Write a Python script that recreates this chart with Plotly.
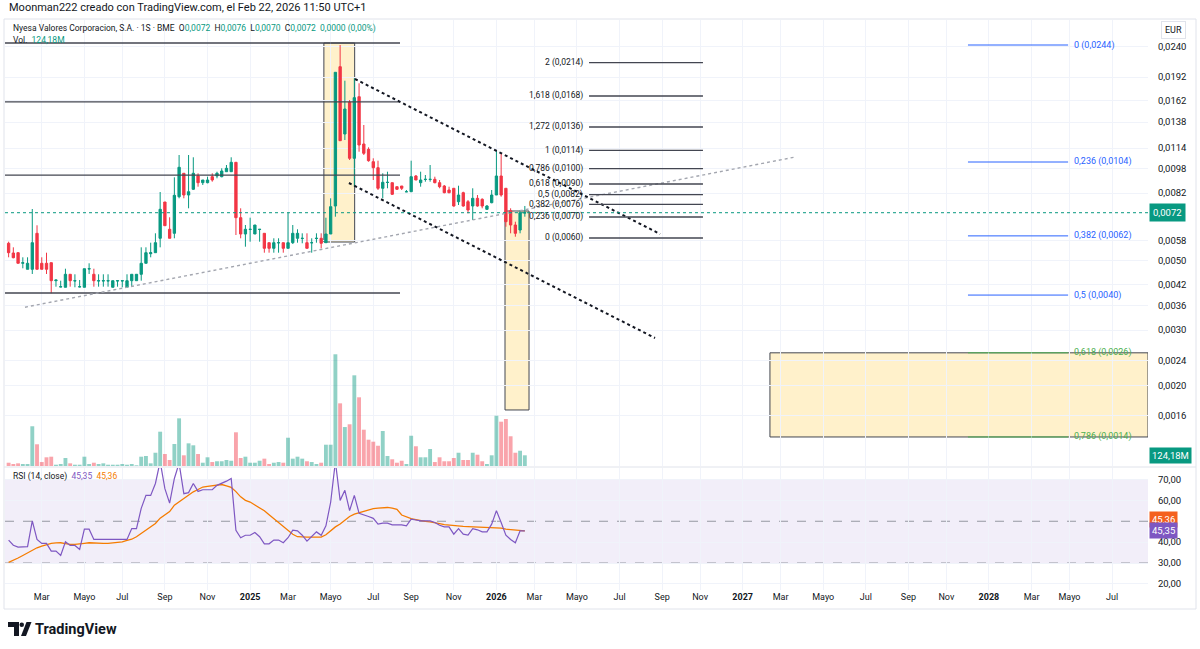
import math
import pandas as pd
import plotly.graph_objects as go

W, H = 1200, 649

# ---------------- data ----------------
dates = pd.date_range("2024-01-15", periods=110, freq="7D")

open_ = [0.005673, 0.005283, 0.005295, 0.004899, 0.004688, 0.004688, 0.006104, 0.004899, 0.004899, 0.004921,
         0.004312, 0.004117, 0.004108, 0.004519, 0.004302, 0.004117, 0.004108, 0.004698, 0.004519, 0.004302,
         0.004302, 0.004302, 0.004108, 0.004302, 0.004302, 0.004108, 0.004312, 0.004312, 0.004519, 0.004899,
         0.005256, 0.005295, 0.005885, 0.007680, 0.006287, 0.006104, 0.007985, 0.009481, 0.008085, 0.008431,
         0.009295, 0.008849, 0.008849, 0.009247, 0.009295, 0.009247, 0.009593, 0.009593, 0.010277, 0.006845,
         0.006073, 0.006277, 0.006073, 0.006277, 0.006104, 0.005698, 0.005468, 0.005694, 0.005698, 0.005468,
         0.005698, 0.005885, 0.005875, 0.005698, 0.005694, 0.005875, 0.005885, 0.005698, 0.006073, 0.007458,
         0.020725, 0.012648, 0.015961, 0.010584, 0.016630, 0.011754, 0.011306, 0.010322, 0.009878, 0.008493,
         0.008862, 0.008849, 0.008593, 0.008637, 0.008276, 0.008283, 0.009295, 0.008849, 0.009059, 0.009059,
         0.009072, 0.008849, 0.008637, 0.008387, 0.008493, 0.007697, 0.008223, 0.007697, 0.007458, 0.007892,
         0.007834, 0.007280, 0.007641, 0.008085, 0.009295, 0.008493, 0.007206, 0.006488, 0.006254, 0.007080]

high = [0.005740, 0.005508, 0.005311, 0.005119, 0.005119, 0.007296, 0.006474, 0.005119, 0.005295, 0.004921,
        0.004334, 0.004312, 0.004708, 0.004519, 0.004519, 0.004334, 0.004708, 0.004899, 0.004708, 0.004519,
        0.004519, 0.004519, 0.004312, 0.004312, 0.004312, 0.004519, 0.004519, 0.004519, 0.005508, 0.005508,
        0.005698, 0.006104, 0.008265, 0.007680, 0.006865, 0.009206, 0.010843, 0.009481, 0.010843, 0.010662,
        0.009481, 0.009026, 0.009247, 0.009481, 0.009593, 0.009835, 0.010076, 0.010662, 0.010277, 0.007333,
        0.006488, 0.006845, 0.006488, 0.006287, 0.006104, 0.005698, 0.005885, 0.005885, 0.005698, 0.007101,
        0.006488, 0.006287, 0.006104, 0.006104, 0.005885, 0.006104, 0.006104, 0.006845, 0.007892, 0.019891,
        0.024300, 0.018702, 0.016232, 0.019034, 0.018348, 0.013512, 0.011473, 0.010584, 0.010399, 0.009481,
        0.009593, 0.008849, 0.008593, 0.008637, 0.008387, 0.010399, 0.009363, 0.009593, 0.009363, 0.010076,
        0.009247, 0.009026, 0.008701, 0.008593, 0.008493, 0.008656, 0.008283, 0.007794, 0.008493, 0.008085,
        0.007892, 0.007513, 0.008387, 0.011248, 0.010979, 0.008493, 0.007333, 0.006647, 0.007243, 0.007460]

low = [0.005119, 0.005081, 0.004899, 0.004722, 0.004688, 0.004529, 0.004688, 0.004688, 0.004529, 0.003931,
       0.004126, 0.004108, 0.004108, 0.004126, 0.004108, 0.004108, 0.004108, 0.004529, 0.004126, 0.004126,
       0.004126, 0.004126, 0.004108, 0.004126, 0.004108, 0.004108, 0.004126, 0.004312, 0.004312, 0.004899,
       0.005119, 0.005295, 0.005508, 0.006455, 0.005885, 0.005885, 0.007892, 0.007892, 0.007333, 0.008387,
       0.008593, 0.008701, 0.008810, 0.008914, 0.009139, 0.009206, 0.009593, 0.009593, 0.006029, 0.005885,
       0.005533, 0.005740, 0.006073, 0.005740, 0.005295, 0.005295, 0.005295, 0.005295, 0.005295, 0.005468,
       0.005644, 0.005698, 0.005673, 0.005468, 0.005295, 0.005698, 0.005468, 0.005698, 0.006073, 0.006895,
       0.012042, 0.012104, 0.010452, 0.008593, 0.011109, 0.010843, 0.010322, 0.009026, 0.008387, 0.007892,
       0.008493, 0.008085, 0.008387, 0.008387, 0.008265, 0.008283, 0.009026, 0.008593, 0.008914, 0.008914,
       0.008810, 0.008493, 0.008186, 0.008186, 0.007420, 0.007513, 0.007420, 0.007070, 0.006730, 0.007420,
       0.007333, 0.007243, 0.007608, 0.008085, 0.007985, 0.006407, 0.006104, 0.005954, 0.006104, 0.006895]

close = [0.005295, 0.005104, 0.004899, 0.004921, 0.004899, 0.005698, 0.004688, 0.004688, 0.004688, 0.004312,
         0.004334, 0.004126, 0.004519, 0.004312, 0.004312, 0.004126, 0.004708, 0.004708, 0.004312, 0.004312,
         0.004312, 0.004312, 0.004312, 0.004312, 0.004312, 0.004312, 0.004519, 0.004519, 0.004899, 0.005295,
         0.005295, 0.005698, 0.007280, 0.006455, 0.005885, 0.008067, 0.009908, 0.008085, 0.008283, 0.009481,
         0.008849, 0.009026, 0.009026, 0.009026, 0.009481, 0.009642, 0.009835, 0.010277, 0.006845, 0.006073,
         0.006287, 0.006287, 0.006488, 0.006287, 0.005468, 0.005468, 0.005698, 0.005698, 0.005468, 0.005698,
         0.006104, 0.006104, 0.005885, 0.005468, 0.005698, 0.005885, 0.005673, 0.006073, 0.007420, 0.019891,
         0.012042, 0.015195, 0.010584, 0.016509, 0.011668, 0.010979, 0.010399, 0.009878, 0.008493, 0.008875,
         0.008875, 0.008127, 0.008431, 0.008493, 0.008283, 0.009247, 0.009026, 0.009026, 0.009072, 0.009072,
         0.008849, 0.008593, 0.008223, 0.008223, 0.007458, 0.008085, 0.007458, 0.007243, 0.007892, 0.007458,
         0.007458, 0.007458, 0.008085, 0.009295, 0.008085, 0.006647, 0.006488, 0.006104, 0.007100, 0.007100]

volume_m = [38, 23, 31, 23, 23, 461, 252, 46, 101, 108,
            15, 23, 93, 31, 15, 15, 108, 23, 38, 23,
            31, 15, 15, 15, 23, 15, 23, 8, 108, 116,
            31, 154, 398, 139, 70, 255, 553, 124, 263, 240,
            139, 38, 101, 46, 55, 55, 70, 61, 391, 93,
            108, 38, 38, 61, 85, 23, 38, 46, 38, 328,
            85, 108, 85, 55, 46, 23, 38, 247, 247, 1296,
            727, 452, 484, 1052, 797, 421, 305, 282, 235, 406,
            116, 78, 38, 61, 23, 351, 229, 101, 101, 197,
            46, 101, 55, 55, 93, 154, 70, 70, 154, 131,
            55, 23, 124, 583, 514, 545, 345, 154, 177, 124.18]

rsi = [41.0, 38.5, 37.6, 37.6, 37.8, 50.2, 41.3, 39.4, 39.4, 35.7,
       35.7, 33.6, 40.2, 38.4, 38.4, 36.5, 46.2, 46.2, 41.3, 41.3,
       41.3, 41.3, 41.3, 41.3, 41.3, 41.3, 46.5, 46.5, 56.2, 62.4,
       62.4, 68.1, 78.6, 65.6, 58.7, 70.5, 77.8, 63.2, 63.7, 68.1,
       64.3, 65.1, 65.1, 65.1, 67.2, 68.1, 69.2, 70.5, 45.7, 42.1,
       43.3, 43.3, 44.6, 42.6, 39.2, 39.2, 41.0, 41.0, 39.7, 42.1,
       45.7, 45.4, 43.3, 40.5, 42.9, 44.9, 43.3, 47.8, 59.1, 78.6,
       60.0, 64.8, 55.1, 62.4, 53.8, 53.2, 52.3, 51.4, 48.6, 49.1,
       49.1, 48.3, 48.3, 48.3, 47.8, 51.0, 50.6, 50.2, 50.2, 50.2,
       49.4, 48.1, 47.3, 47.3, 43.8, 46.5, 43.8, 43.4, 46.5, 45.9,
       44.9, 44.9, 48.6, 55.1, 49.4, 43.3, 41.3, 39.7, 45.4, 45.35]

rsi_ma = [30.3, 31.2, 32.4, 33.6, 34.8, 36.4, 37.3, 38.1, 38.8, 39.4,
          39.6, 39.7, 39.3, 38.9, 38.9, 39.0, 39.4, 39.7, 39.5, 39.4,
          39.4, 39.4, 39.6, 39.8, 40.1, 40.8, 41.4, 42.6, 44.1, 45.8,
          47.0, 48.9, 51.5, 53.1, 54.6, 57.7, 59.3, 60.7, 62.3, 64.1,
          65.2, 66.4, 66.7, 67.1, 67.4, 67.6, 67.0, 66.2, 64.2, 61.7,
          60.0, 59.2, 57.8, 56.5, 55.0, 53.1, 51.2, 49.6, 47.5, 45.5,
          43.8, 42.6, 42.4, 42.4, 42.4, 42.4, 42.4, 43.5, 45.5, 47.3,
          48.7, 50.3, 52.3, 53.4, 54.1, 54.7, 55.4, 56.0, 56.3, 56.5,
          56.6, 56.3, 55.7, 53.0, 52.0, 51.3, 50.8, 50.2, 49.9, 49.7,
          49.4, 48.9, 48.4, 48.1, 47.9, 47.7, 47.5, 47.4, 47.3, 47.2,
          47.0, 46.8, 46.7, 46.7, 46.7, 46.2, 45.9, 45.7, 45.5, 45.36]

# axis ticks
month_ticks = ["2024-03-04", "2024-05-06", "2024-07-01", "2024-09-02", "2024-11-04",
               "2025-01-06", "2025-03-03", "2025-05-05", "2025-07-07", "2025-09-01", "2025-11-03",
               "2026-01-05", "2026-03-02", "2026-05-04", "2026-07-06", "2026-09-07", "2026-11-02",
               "2027-01-04", "2027-03-01", "2027-05-03", "2027-07-05", "2027-09-06", "2027-11-01",
               "2028-01-03", "2028-03-06", "2028-05-01", "2028-07-03"]
month_labels = ["Mar", "Mayo", "Jul", "Sep", "Nov",
                "<b>2025</b>", "Mar", "Mayo", "Jul", "Sep", "Nov",
                "<b>2026</b>", "Mar", "Mayo", "Jul", "Sep", "Nov",
                "<b>2027</b>", "Mar", "Mayo", "Jul", "Sep", "Nov",
                "<b>2028</b>", "Mar", "Mayo", "Jul"]
price_ticks = [0.0016, 0.0020, 0.0024, 0.0030, 0.0036, 0.0042, 0.0050, 0.0058,
               0.0082, 0.0098, 0.0114, 0.0138, 0.0162, 0.0192, 0.0240]
price_tick_text = ["0,0016", "0,0020", "0,0024", "0,0030", "0,0036", "0,0042", "0,0050", "0,0058",
                   "0,0082", "0,0098", "0,0114", "0,0138", "0,0162", "0,0192", "0,0240"]
rsi_ticks = [20, 30, 40, 60, 70]
rsi_tick_text = ["20,00", "30,00", "40,00", "60,00", "70,00"]

# drawings (anchor points of the chart's drawing tools)
x_range = ["2024-01-09 16:00", "2028-08-25 02:00"]
last_price = 0.00710
hlines_prices = [0.02466, 0.0160, 0.00936, 0.00394]
hlines_x = ["2024-01-09 16:00", "2025-08-15 12:00"]
trend_up = (["2024-02-08 05:00", "2027-03-22 07:00"], [0.00355, 0.01068])
channel_top = (["2025-06-10", "2026-09-04"], [0.018937, 0.006073])
channel_bot = (["2025-06-01", "2026-08-27 10:00"], [0.00883, 0.002832])
boxes = [
    ("2025-04-25", "2025-06-09 12:00", 0.005727, 0.02466),
    ("2026-01-17 17:00", "2026-02-22 05:00", 0.00167, 0.00719),
    ("2027-02-13 07:00", "2028-08-25 02:00", 0.00137, 0.00254),
]
fib1_prices = [0.005898, 0.00688, 0.007551, 0.008103, 0.008765, 0.009806, 0.011223, 0.013315, 0.016716, 0.021342]
fib1_labels = ["0 (0,0060)", "0,236 (0,0070)", "0,382 (0,0076)", "0,5 (0,0082)", "0,618 (0,0090)",
               "0,786 (0,0100)", "1 (0,0114)", "1,272 (0,0136)", "1,618 (0,0168)", "2 (0,0214)"]
fib1_x = ["2026-05-21 22:00", "2026-11-06 07:00"]
fib2_prices = [0.0243, 0.0103, 0.00599, 0.00388, 0.00254, 0.00137]
fib2_labels = ["0 (0,0244)", "0,236 (0,0104)", "0,382 (0,0062)", "0,5 (0,0040)", "0,618 (0,0026)", "0,786 (0,0014)"]
fib2_colors = ["#2962FF", "#2962FF", "#2962FF", "#2962FF", "#4CAF50", "#4CAF50"]
fib2_x = ["2027-12-03", "2028-04-29"]

# ---------------- figure ----------------
TEAL = "#089981"
RED = "#F23645"
TXT = "#131722"
GRID = "#f0f3fa"
FONT = "Roboto, sans-serif"


def px(x):
    return x / W


def py(y):
    return 1 - y / H


main_dom = [py(466), py(20)]
rsi_dom = [py(590), py(468)]

fig = go.Figure()

vol_colors = ["rgba(8,153,129,0.45)" if c >= o else "rgba(242,54,69,0.45)" for o, c in zip(open_, close)]
fig.add_trace(go.Bar(x=dates, y=volume_m, marker=dict(color=vol_colors, line=dict(width=0)),
                     xaxis="x", yaxis="y", showlegend=False, hoverinfo="skip"))

fig.add_trace(go.Candlestick(
    x=dates, open=open_, high=high, low=low, close=close, xaxis="x", yaxis="y3",
    increasing=dict(line=dict(color=TEAL, width=1), fillcolor=TEAL),
    decreasing=dict(line=dict(color=RED, width=1), fillcolor=RED),
    whiskerwidth=0, showlegend=False))

for p in hlines_prices:
    fig.add_trace(go.Scatter(x=hlines_x, y=[p, p], mode="lines", xaxis="x", yaxis="y3",
                             line=dict(color="#434651", width=1.3), showlegend=False, hoverinfo="skip"))
fig.add_trace(go.Scatter(x=trend_up[0], y=trend_up[1], mode="lines", xaxis="x", yaxis="y3",
                         line=dict(color="#a3a6af", width=1.4, dash="dot"), showlegend=False, hoverinfo="skip"))
for tl in (channel_top, channel_bot):
    fig.add_trace(go.Scatter(x=tl[0], y=tl[1], mode="lines", xaxis="x", yaxis="y3",
                             line=dict(color=TXT, width=2, dash="dot"), showlegend=False, hoverinfo="skip"))
for p in fib1_prices:
    fig.add_trace(go.Scatter(x=fib1_x, y=[p, p], mode="lines", xaxis="x", yaxis="y3",
                             line=dict(color="#434651", width=1.3), showlegend=False, hoverinfo="skip"))
for p, c in zip(fib2_prices, fib2_colors):
    fig.add_trace(go.Scatter(x=fib2_x, y=[p, p], mode="lines", xaxis="x", yaxis="y3",
                             line=dict(color=c, width=1), showlegend=False, hoverinfo="skip"))
fig.add_trace(go.Scatter(x=x_range, y=[last_price, last_price], mode="lines", xaxis="x", yaxis="y3",
                         line=dict(color=TEAL, width=1, dash="dot"), showlegend=False, hoverinfo="skip"))

fig.add_trace(go.Scatter(x=dates, y=rsi_ma, mode="lines", xaxis="x2", yaxis="y2",
                         line=dict(color="#F57C00", width=1.3), showlegend=False, hoverinfo="skip"))
fig.add_trace(go.Scatter(x=dates, y=rsi, mode="lines", xaxis="x2", yaxis="y2",
                         line=dict(color="#7E57C2", width=1.2), showlegend=False, hoverinfo="skip"))

shapes = []
for x0, x1, y0, y1 in boxes:
    shapes.append(dict(type="rect", xref="x", yref="y3", x0=x0, x1=x1, y0=y0, y1=y1,
                       fillcolor="rgba(255,229,160,0.55)", line=dict(color="#434651", width=1), layer="below"))
shapes.append(dict(type="rect", xref="x2 domain", yref="y2", x0=0, x1=1, y0=30, y1=70,
                   fillcolor="rgba(126,87,194,0.10)", line=dict(width=0), layer="below"))
for lv in (30, 50, 70):
    shapes.append(dict(type="line", xref="x2 domain", yref="y2", x0=0, x1=1, y0=lv, y1=lv,
                       line=dict(color="#9598a1", width=1, dash="dash"), layer="below"))
shapes.append(dict(type="line", xref="paper", yref="paper", x0=px(4), x1=px(1196), y0=py(467), y1=py(467),
                   line=dict(color="#e0e3eb", width=1)))
shapes.append(dict(type="rect", xref="paper", yref="paper", x0=px(4), x1=px(1196), y0=py(609), y1=py(19),
                   line=dict(color="#e0e3eb", width=1)))
shapes.append(dict(type="path", xref="paper", yref="paper",
                   path=f"M {px(8)},{py(622)} L {px(19)},{py(622)} L {px(19)},{py(636)} L {px(14)},{py(636)} "
                        f"L {px(14)},{py(627)} L {px(8)},{py(627)} Z",
                   fillcolor=TXT, line=dict(width=0)))
shapes.append(dict(type="circle", xref="paper", yref="paper", x0=px(19.5), x1=px(24), y0=py(627), y1=py(622.5),
                   fillcolor=TXT, line=dict(width=0)))
shapes.append(dict(type="path", xref="paper", yref="paper",
                   path=f"M {px(21)},{py(636)} L {px(26.5)},{py(622)} L {px(31.5)},{py(622)} L {px(26)},{py(636)} Z",
                   fillcolor=TXT, line=dict(width=0)))

ann = []
ann.append(dict(xref="paper", yref="paper", x=px(7), y=py(8), xanchor="left", yanchor="middle", showarrow=False,
                text="Moonman222 creado con TradingView.com, el Feb 22, 2026 11:50 UTC+1",
                font=dict(size=11, color=TXT, family=FONT)))
tv = lambda s: f"<span style='color:{TEAL}'>{s}</span>"
ann.append(dict(xref="paper", yref="paper", x=px(11), y=py(28), xanchor="left", yanchor="middle", showarrow=False,
                text="Nyesa Valores Corporacion, S.A. · 1S · BME\u00a0\u00a0O" + tv("0,0072") + "\u00a0\u00a0H" + tv("0,0076")
                     + "\u00a0\u00a0L" + tv("0,0070") + "\u00a0\u00a0C" + tv("0,0072") + "\u00a0\u00a0" + tv("0,0000 (0,00%)"),
                font=dict(size=8.5, color=TXT, family=FONT)))
ann.append(dict(xref="paper", yref="paper", x=px(11), y=py(40), xanchor="left", yanchor="middle", showarrow=False,
                text="Vol.\u00a0\u00a0" + tv("124,18M"), font=dict(size=8.5, color=TXT, family=FONT)))
ann.append(dict(xref="paper", yref="paper", x=px(11), y=py(476), xanchor="left", yanchor="middle", showarrow=False,
                text="RSI (14, close)\u00a0\u00a0<span style='color:#7E57C2'>45,35</span>\u00a0\u00a0"
                     "<span style='color:#F57C00'>45,36</span>",
                font=dict(size=8.5, color=TXT, family=FONT)))
ann.append(dict(xref="paper", yref="paper", x=px(1173), y=py(30), xanchor="center", yanchor="middle", showarrow=False,
                text="EUR", font=dict(size=9, color=TXT, family=FONT), bordercolor="#e0e3eb", borderwidth=1,
                borderpad=3, bgcolor="white"))
ann.append(dict(xref="paper", yref="y3", x=px(1149), y=math.log10(last_price), xanchor="left", yanchor="middle",
                showarrow=False, text="0,0072", font=dict(size=9.5, color="white", family=FONT),
                bgcolor=TEAL, borderpad=3))
ann.append(dict(xref="paper", yref="y", x=px(1149), y=volume_m[-1], xanchor="left", yanchor="middle",
                showarrow=False, text="124,18M", font=dict(size=9.5, color="white", family=FONT),
                bgcolor=TEAL, borderpad=2))
ann.append(dict(xref="paper", yref="paper", x=px(1149), y=py(519), xanchor="left", yanchor="middle",
                showarrow=False, text="45,36", font=dict(size=9.5, color="white", family=FONT),
                bgcolor="#F4601E", borderpad=2))
ann.append(dict(xref="paper", yref="y2", x=px(1149), y=rsi[-1], xanchor="left", yanchor="middle",
                showarrow=False, text="45,35", font=dict(size=9.5, color="white", family=FONT),
                bgcolor="#7E57C2", borderpad=2))
for p, t in zip(fib1_prices, fib1_labels):
    ann.append(dict(xref="x", yref="y3", x=fib1_x[0], y=math.log10(p), xanchor="right", yanchor="middle",
                    xshift=-4, showarrow=False, text=t, font=dict(size=8.5, color=TXT, family=FONT)))
for p, t, c in zip(fib2_prices, fib2_labels, fib2_colors):
    ann.append(dict(xref="x", yref="y3", x=fib2_x[1], y=math.log10(p), xanchor="left", yanchor="middle",
                    xshift=4, showarrow=False, text=t, font=dict(size=9, color=c, family=FONT)))
ann.append(dict(xref="paper", yref="paper", x=px(33), y=py(629), xanchor="left", yanchor="middle", showarrow=False,
                text="<b>TradingView</b>", font=dict(size=14.5, color=TXT, family=FONT)))

ymin = math.log10(0.0011072)
ymax = math.log10(0.029193)

fig.update_layout(
    width=W, height=H, margin=dict(l=0, r=0, t=0, b=0),
    paper_bgcolor="white", plot_bgcolor="white",
    font=dict(family=FONT, size=9, color=TXT),
    showlegend=False, bargap=0.18, hovermode=False,
    xaxis=dict(domain=[px(5), px(1148)], range=x_range, anchor="y", type="date",
               tickvals=month_ticks, showticklabels=False, showgrid=True, gridcolor=GRID,
               zeroline=False, showline=False, rangeslider=dict(visible=False)),
    yaxis=dict(domain=main_dom, range=[0, 5174], visible=False, fixedrange=True),
    yaxis3=dict(overlaying="y", anchor="x", side="right", type="log", range=[ymin, ymax],
                tickvals=price_ticks, ticktext=price_tick_text, showgrid=True, gridcolor=GRID,
                ticks="outside", ticklen=7, tickcolor="rgba(0,0,0,0)", zeroline=False, showline=False,
                tickfont=dict(size=9.5, color=TXT, family=FONT)),
    xaxis2=dict(domain=[px(5), px(1148)], range=x_range, anchor="y2", type="date",
                tickvals=month_ticks, ticktext=month_labels, showgrid=True, gridcolor=GRID,
                zeroline=False, showline=False, ticks="", tickfont=dict(size=9, color=TXT, family=FONT)),
    yaxis2=dict(domain=rsi_dom, range=[17.07, 75.51], anchor="x2", side="right",
                tickvals=rsi_ticks, ticktext=rsi_tick_text, showgrid=True, gridcolor=GRID,
                ticks="outside", ticklen=7, tickcolor="rgba(0,0,0,0)", zeroline=False, showline=False,
                tickfont=dict(size=9.5, color=TXT, family=FONT)),
    shapes=shapes, annotations=ann,
)

fig.write_html("out.html", config={"displayModeBar": False})
